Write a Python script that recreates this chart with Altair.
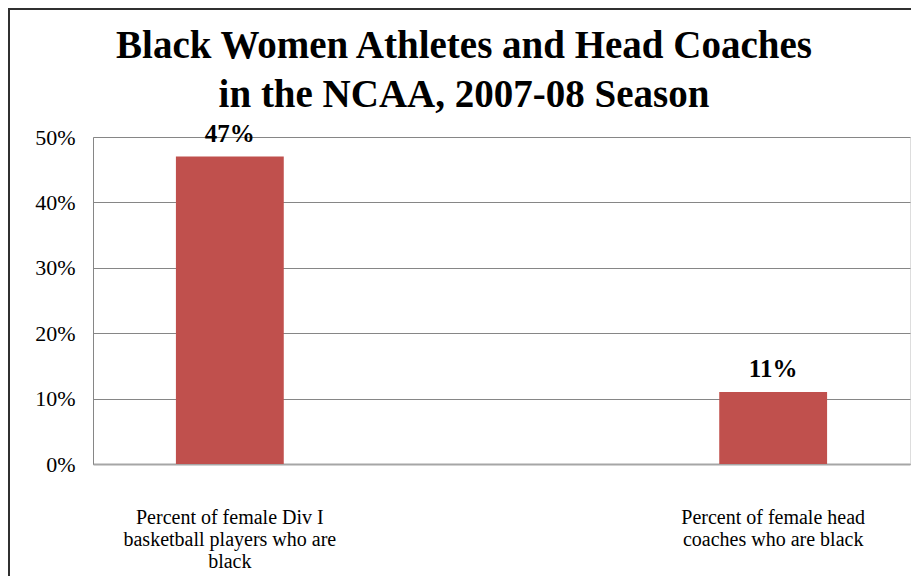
import altair as alt
import pandas as pd

categories = [
    "Percent of female Div I\nbasketball players who are\nblack",
    "Percent of female head\ncoaches who are black",
]
values = [0.47, 0.11]
value_labels = ["47%", "11%"]
title_lines = ["Black Women  Athletes and Head Coaches", "in the NCAA, 2007-08 Season"]
y_ticks = [0, 0.1, 0.2, 0.3, 0.4, 0.5]

df = pd.DataFrame({"cat": categories, "val": values, "lab": value_labels})
one = pd.DataFrame({"k": [0]})

FONT = "Liberation Serif"

x = alt.X(
    "cat:N",
    sort=categories,
    title=None,
    scale=alt.Scale(paddingInner=0.8015, paddingOuter=0.1526),
    axis=alt.Axis(
        labelExpr="split(datum.value, '\\n')",
        labelAngle=0,
        labelFont=FONT,
        labelFontSize=20,
        labelColor="#000000",
        labelLineHeight=22,
        labelPadding=43,
        labelBaseline="top",
        ticks=False,
        domainColor="#A6A6A6",
        domainWidth=2,
        grid=False,
        labelLimit=400,
    ),
)
y = alt.Y(
    "val:Q",
    title=None,
    scale=alt.Scale(domain=[0, 0.5], nice=False),
    axis=alt.Axis(
        values=y_ticks,
        format=".0%",
        labelFont=FONT,
        labelFontSize=22,
        labelColor="#000000",
        labelPadding=18,
        ticks=False,
        domainColor="#868686",
        domainWidth=1,
        gridColor="#868686",
        gridWidth=1,
    ),
)

bars = alt.Chart(df).mark_bar(color="#C0504D").encode(x=x, y=y)
labels = alt.Chart(df).mark_text(
    font=FONT, fontSize=25, fontWeight="bold", baseline="alphabetic", dy=-15, color="#000000"
).encode(x=alt.X("cat:N", sort=categories), y="val:Q", text="lab:N")

title = alt.Chart(one).mark_text(
    text=title_lines, font=FONT, fontSize=39, fontWeight="bold", lineHeight=49,
    baseline="alphabetic", align="center", color="#000000"
).encode(x=alt.value(371), y=alt.value(-79))

border_left = alt.Chart(one).mark_rule(color="#303030", strokeWidth=2).encode(
    x=alt.value(-84), y=alt.value(-128), y2=alt.value(500)
)
border_top = alt.Chart(one).mark_rule(color="#303030", strokeWidth=2).encode(
    y=alt.value(-128), x=alt.value(-85), x2=alt.value(830)
)

chart = alt.layer(bars, labels, title, border_left, border_top).properties(
    width=817,
    height=327,
    autosize=alt.AutoSizeParams(type="none"),
    padding={"left": 85, "top": 129, "right": 1, "bottom": 112},
).configure_view(stroke=None).configure(background="white")

chart.save("out.html", embed_options={"renderer": "svg", "actions": False})
